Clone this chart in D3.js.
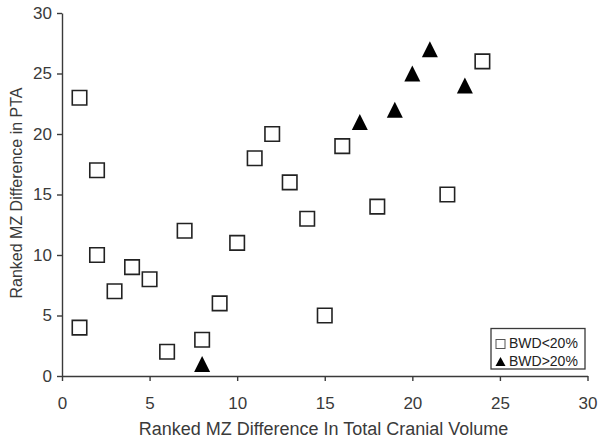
<!DOCTYPE html>
<html>
<head>
<meta charset="utf-8">
<script src="https://d3js.org/d3.v7.min.js"></script>
<style>
  body { margin: 0; background: #fff; }
  svg { font-family: "Liberation Sans", Arial, sans-serif; }
  .axis path, .axis line { stroke: #3a3a3a; stroke-width: 1.4; }
  .axis text { fill: #3a3a3a; font-size: 17px; }
</style>
</head>
<body>
<svg width="601" height="444"></svg>
<script>
// BWD < 20% (open squares)
var lowX = [1, 2, 2, 1, 3, 4, 5, 6, 7, 8, 9, 10, 11, 12, 13, 14, 15, 16, 18, 22, 24];
var lowY = [23, 17, 10, 4, 7, 9, 8, 2, 12, 3, 6, 11, 18, 20, 16, 13, 5, 19, 14, 15, 26];
// BWD > 20% (filled triangles)
var highX = [8, 17, 19, 20, 21, 23];
var highY = [1, 21, 22, 25, 27, 24];
var xTicks = [0, 5, 10, 15, 20, 25, 30];
var yTicks = [0, 5, 10, 15, 20, 25, 30];

var svg = d3.select("svg");
var x = d3.scaleLinear().domain([0, 30]).range([62, 587.5]);
var y = d3.scaleLinear().domain([0, 30]).range([376, 13]);

svg.append("g")
    .attr("class", "axis")
    .attr("transform", "translate(0,376)")
    .call(d3.axisBottom(x).tickValues(xTicks).tickSize(5).tickPadding(16).tickSizeOuter(0));

svg.append("g")
    .attr("class", "axis")
    .attr("transform", "translate(62,0)")
    .call(d3.axisLeft(y).tickValues(yTicks).tickSize(5).tickPadding(5).tickSizeOuter(0));

svg.append("text")
    .attr("x", 323.5).attr("y", 435)
    .attr("text-anchor", "middle")
    .style("font-size", "18px").style("fill", "#3a3a3a")
    .text("Ranked MZ Difference In Total Cranial Volume");

svg.append("text")
    .attr("transform", "translate(22,193) rotate(-90)")
    .attr("text-anchor", "middle")
    .style("font-size", "16px").style("fill", "#3a3a3a")
    .text("Ranked MZ Difference in PTA");

// triangle with its bounding box centred on the point
function triangle(w, h) {
  return {draw: function(ctx) {
    ctx.moveTo(0, -h / 2);
    ctx.lineTo(w / 2, h / 2);
    ctx.lineTo(-w / 2, h / 2);
    ctx.closePath();
  }};
}

var sq = d3.symbol().type(d3.symbolSquare).size(210);
var tri = d3.symbol().type(triangle(16, 16));

svg.append("g").selectAll("path")
  .data(d3.range(lowX.length))
  .enter().append("path")
    .attr("transform", function(i) { return "translate(" + x(lowX[i]) + "," + y(lowY[i]) + ")"; })
    .attr("d", sq)
    .attr("fill", "#fff")
    .attr("stroke", "#222")
    .attr("stroke-width", 1.6);

svg.append("g").selectAll("path")
  .data(d3.range(highX.length))
  .enter().append("path")
    .attr("transform", function(i) { return "translate(" + x(highX[i]) + "," + y(highY[i]) + ")"; })
    .attr("d", tri)
    .attr("fill", "#000");

// legend
var lg = svg.append("g").attr("transform", "translate(491,328.5)");
lg.append("rect").attr("width", 94).attr("height", 40.5)
    .attr("fill", "#fff").attr("stroke", "#3a3a3a").attr("stroke-width", 1.3);
lg.append("rect").attr("x", 5).attr("y", 11).attr("width", 9).attr("height", 9)
    .attr("fill", "#fff").attr("stroke", "#555").attr("stroke-width", 1);
lg.append("path").attr("transform", "translate(9.5,33)")
    .attr("d", d3.symbol().type(triangle(10, 9))).attr("fill", "#000");
lg.append("text").attr("x", 18).attr("y", 19).style("font-size", "14px").style("fill", "#222").text("BWD<20%");
lg.append("text").attr("x", 18).attr("y", 37.5).style("font-size", "14px").style("fill", "#222").text("BWD>20%");
</script>
</body>
</html>
